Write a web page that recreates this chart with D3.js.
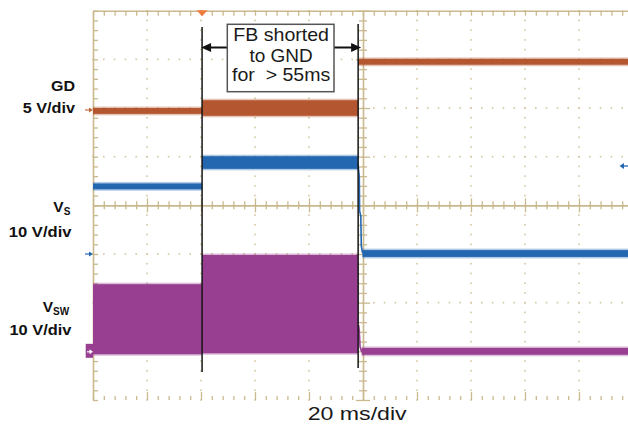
<!DOCTYPE html>
<html><head><meta charset="utf-8">
<script src="https://cdn.jsdelivr.net/npm/d3@7"></script>
<style>
body{margin:0;background:#fff}
svg{display:block;font-family:"Liberation Sans",Arial,Helvetica,sans-serif}
</style>
</head><body>
<svg id="c" width="628" height="426"></svg>
<script>
// ---- data (time in ms, 20 ms/div; voltages in V) ----
const timeDomain = [0, 200];
const segEnds = [40.4, 98.2];            // FB short begins / ends (ms)
const gdStart = [0, 40.4, 98.2];
const gdEnd   = [40.4, 98.2, 200];
const gdLow   = [-0.4, -0.6, 4.65];
const gdHigh  = [0.2, 1.0, 5.25];
const vsStart = [0, 40.4, 99.8];
const vsEnd   = [40.4, 98.2, 200];
const vsLow   = [13.3, 17.5, -0.6];
const vsHigh  = [14.5, 20.1, 0.8];
const vswStart = [0, 40.4, 99.5];
const vswEnd   = [40.4, 98.2, 200];
const vswLow   = [-0.5, -0.3, -0.6];
const vswHigh  = [13.9, 19.9, 0.8];
const vsFallT = [98.2, 98.33, 98.63, 98.74, 99.19, 99.37, 99.81];
const vsFallV = [18.5, 17.47, 15.83, 8.84, 7.81, 1.65, 0.21];
const vswFallT = [98.35, 98.6, 98.9, 99.5];
const vswFallV = [5.5, 4.5, 1.0, 0.0];
const annotationLines = ["FB shorted", "to GND", "for  > 55ms"];
const channelLabels = ["GD", "5 V/div", "V", "10 V/div", "V", "10 V/div"];
const xLabel = "20 ms/div";

// ---- layout ----
const svg = d3.select("#c");
const L = 93, T = 10.7, B = 400, R = 633;
const x = d3.scaleLinear().domain(timeDomain).range([L, R]);
const yDiv = d3.scaleLinear().domain([0, 8]).range([B, T]);
const yGD  = v => yDiv(5.96 + v / 5);
const yVS  = v => yDiv(3.0 + v / 10);
const yVSW = v => yDiv(0.99 + v / 10);

const tan = "#c9b98e", dotc = "#d4c6a0";
const cOr = "#b4562f", cBl = "#2467b1", cPu = "#983f92";

const minorX = d3.range(0, 200.01, 4);
const minorY = d3.range(0, 8.001, 0.2).map(d => +d.toFixed(1));
const isMajX = t => Math.abs(t / 20 - Math.round(t / 20)) < 1e-6;
const isMajY = v => Math.abs(v - Math.round(v)) < 1e-6;

// dotted grid
const g = svg.append("g");
d3.range(1, 10).filter(i => i !== 5).forEach(i => {
  minorY.forEach(v => g.append("rect").attr("x", x(i * 20) - 0.8).attr("y", yDiv(v) - 0.8)
    .attr("width", 1.6).attr("height", 1.6).attr("fill", dotc));
});
d3.range(1, 8).filter(i => i !== 4).forEach(i => {
  minorX.forEach(t => g.append("rect").attr("x", x(t) - 0.8).attr("y", yDiv(i) - 0.8)
    .attr("width", 1.6).attr("height", 1.6).attr("fill", dotc));
});

function styleAxis(sel, keepDomain) {
  sel.selectAll("text").remove();
  sel.select(".domain").attr("stroke", keepDomain ? tan : "none").attr("stroke-width", 1.6);
  sel.selectAll(".tick line").attr("stroke", tan).attr("stroke-width", 1.3);
}
// top border
const topAx = svg.append("g").attr("transform", `translate(0,${T})`)
  .call(d3.axisBottom(x).tickValues(minorX).tickSize(5).tickSizeOuter(0));
styleAxis(topAx, true);
// left border
const leftAx = svg.append("g").attr("transform", `translate(${L},0)`)
  .call(d3.axisRight(yDiv).tickValues(minorY).tickSize(5).tickSizeOuter(0));
styleAxis(leftAx, true);
// bottom ticks
const botAx = svg.append("g").attr("transform", `translate(0,${B})`)
  .call(d3.axisTop(x).tickValues(minorX).tickSize(4).tickSizeOuter(0));
styleAxis(botAx, false);
botAx.selectAll(".tick line").attr("y2", d => isMajX(d) ? -8 : -4);
// centre cross
const cxAx = svg.append("g").attr("transform", `translate(0,${yDiv(4)})`)
  .call(d3.axisBottom(x).tickValues(minorX).tickSize(4).tickSizeOuter(0));
styleAxis(cxAx, true);
cxAx.selectAll(".tick line").attr("y1", d => isMajX(d) ? -7 : -4).attr("y2", d => isMajX(d) ? 7 : 4);
const cyAx = svg.append("g").attr("transform", `translate(${x(100)},0)`)
  .call(d3.axisRight(yDiv).tickValues(minorY).tickSize(4).tickSizeOuter(0));
styleAxis(cyAx, true);
cyAx.selectAll(".tick line").attr("x1", d => isMajY(d) ? -7 : -4).attr("x2", d => isMajY(d) ? 7 : 4);

// ---- traces ----
function bands(starts, ends, lows, highs, yf, col) {
  const gg = svg.append("g");
  const idx = starts.map((s, i) => i);
  // faint noise fringe
  gg.selectAll("rect.f").data(idx).join("rect").attr("class", "f")
    .attr("x", i => x(starts[i])).attr("width", i => x(ends[i]) - x(starts[i]))
    .attr("y", i => yf(highs[i]) - 1.5).attr("height", i => yf(lows[i]) - yf(highs[i]) + 3)
    .attr("fill", col).attr("opacity", 0.35);
  gg.selectAll("rect.b").data(idx).join("rect").attr("class", "b")
    .attr("x", i => x(starts[i])).attr("width", i => x(ends[i]) - x(starts[i]))
    .attr("y", i => yf(highs[i])).attr("height", i => yf(lows[i]) - yf(highs[i]))
    .attr("fill", col);
}
bands(vswStart, vswEnd, vswLow, vswHigh, yVSW, cPu);
bands(gdStart, gdEnd, gdLow, gdHigh, yGD, cOr);
bands(vsStart, vsEnd, vsLow, vsHigh, yVS, cBl);
const line = (ts, vs, yf) => d3.line().x((d, i) => x(ts[i])).y((d, i) => yf(vs[i]))(ts);
svg.append("path").attr("d", line(vsFallT, vsFallV, yVS)).attr("fill", "none").attr("stroke", cBl).attr("stroke-width", 1.6);
svg.append("path").attr("d", line(vswFallT, vswFallV, yVSW)).attr("fill", "none").attr("stroke", cPu).attr("stroke-width", 1.6);

// cursors
svg.append("line").attr("x1", x(segEnds[0])).attr("x2", x(segEnds[0])).attr("y1", 27).attr("y2", 372)
  .attr("stroke", "#151515").attr("stroke-width", 1.5);
svg.append("line").attr("x1", x(segEnds[1])).attr("x2", x(segEnds[1])).attr("y1", 24).attr("y2", 368)
  .attr("stroke", "#151515").attr("stroke-width", 1.5);

// annotation box + arrows
const bx0 = 227.3, bx1 = 334, by0 = 24.3, by1 = 91.7, ay = 47.5;
svg.append("line").attr("x1", bx0).attr("x2", x(segEnds[0]) + 6).attr("y1", ay).attr("y2", ay).attr("stroke", "#111").attr("stroke-width", 2);
svg.append("path").attr("d", `M${x(segEnds[0]) - 1},${ay}l10,-4.5v9z`).attr("fill", "#111");
svg.append("line").attr("x1", bx1).attr("x2", x(segEnds[1]) - 4).attr("y1", ay).attr("y2", ay).attr("stroke", "#111").attr("stroke-width", 2);
svg.append("path").attr("d", `M${x(segEnds[1]) + 3},${ay}l-10,-4.5v9z`).attr("fill", "#111");
svg.append("rect").attr("x", bx0).attr("y", by0).attr("width", bx1 - bx0).attr("height", by1 - by0)
  .attr("fill", "#fff").attr("stroke", "#555").attr("stroke-width", 1.5);
const annW = [95.7, 63.3, 98.3], annY = [41, 61.7, 81];
annotationLines.forEach((s, i) => svg.append("text").text(s).attr("x", (bx0 + bx1) / 2 + 0.5).attr("y", annY[i])
  .attr("text-anchor", "middle").attr("font-size", 18.5).attr("fill", "#1a1a1a")
  .style("white-space", "pre").attr("textLength", annW[i]).attr("lengthAdjust", "spacingAndGlyphs"));

// markers
svg.append("path").attr("d", `M${x(segEnds[0]) - 5.5},${T - 0.5}h11l-5.5,6z`).attr("fill", "#f07b3c");
function leftArrow(y, col) {
  svg.append("line").attr("x1", 85).attr("x2", 90).attr("y1", y).attr("y2", y).attr("stroke", col).attr("stroke-width", 1.2);
  svg.append("path").attr("d", `M93,${y}l-4,-2.5v5z`).attr("fill", col);
}
leftArrow(yGD(0), "#c26a3e");
leftArrow(yVS(0), cBl);
svg.append("rect").attr("x", 85.7).attr("y", yVSW(0) - 8).attr("width", 7.3).attr("height", 14).attr("fill", cPu);
svg.append("line").attr("x1", 87).attr("x2", 91).attr("y1", yVSW(0)).attr("y2", yVSW(0)).attr("stroke", "#fff").attr("stroke-width", 1.2);
svg.append("path").attr("d", `M93,${yVSW(0)}l-3.5,-2.5v5z`).attr("fill", "#fff");
svg.append("line").attr("x1", 623).attr("x2", 628).attr("y1", 166).attr("y2", 166).attr("stroke", cBl).attr("stroke-width", 1.3);
svg.append("path").attr("d", `M619.5,166l4.5,-3v6z`).attr("fill", cBl);

// channel labels
const lab = (s, xr, y, w, size = 15.5) => svg.append("text").text(s).attr("x", xr).attr("y", y)
  .attr("text-anchor", "end").attr("font-weight", "bold").attr("font-size", size).attr("fill", "#111")
  .attr("textLength", w).attr("lengthAdjust", "spacingAndGlyphs");
lab(channelLabels[0], 75, 90.7, 24);
lab(channelLabels[1], 75, 113.3, 52.3);
// V_S
svg.append("text").attr("x", 53.3).attr("y", 211.7).attr("font-weight", "bold").attr("font-size", 15.5).attr("fill", "#111")
  .call(t => { t.append("tspan").text(channelLabels[2]); t.append("tspan").text("S").attr("font-size", 10).attr("dy", 3); });
lab(channelLabels[3], 71.5, 236.7, 62.7);
// V_SW
svg.append("text").attr("x", 42.7).attr("y", 311.7).attr("font-weight", "bold").attr("font-size", 15.5).attr("fill", "#111")
  .call(t => { t.append("tspan").text(channelLabels[4]); t.append("tspan").text("SW").attr("font-size", 10).attr("dy", 3); });
lab(channelLabels[5], 71.5, 335, 62);

// x label
svg.append("text").text(xLabel).attr("x", 357.2).attr("y", 420).attr("text-anchor", "middle")
  .attr("font-size", 19).attr("fill", "#1a1a1a").attr("textLength", 99).attr("lengthAdjust", "spacingAndGlyphs");
</script>
</body></html>
